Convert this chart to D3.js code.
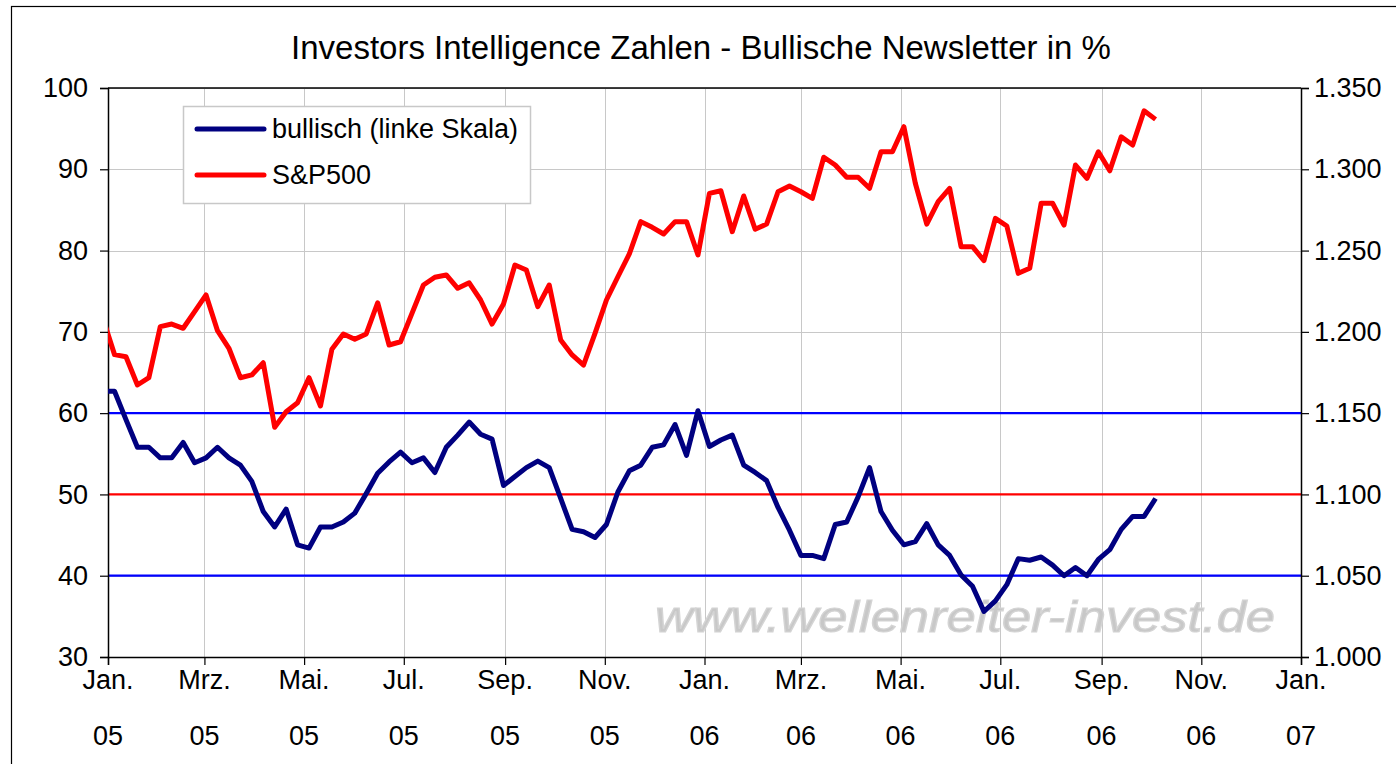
<!DOCTYPE html>
<head>
  <meta charset="utf-8">
  <script src="https://cdn.jsdelivr.net/npm/d3@7"></script>
  <style>
    body { margin:0; background:#fff; }
    text { font-family: "Liberation Sans", Arial, sans-serif; }
  </style>
</head>
<body>
<script>

// weekly values, first week 29.12.2004
var firstWeek = "2004-12-29";

var bullish = [62.7, 62.7, 59.2, 55.8, 55.8, 54.5, 54.5, 56.4, 53.9, 54.5,
  55.8, 54.5, 53.6, 51.6, 47.9, 46.0, 48.2, 43.8, 43.4, 46.0,
  46.0, 46.6, 47.7, 50.1, 52.6, 54.0, 55.2, 53.9, 54.5, 52.7,
  55.8, 57.3, 58.9, 57.4, 56.8, 51.1, 52.2, 53.3, 54.1, 53.3,
  49.5, 45.7, 45.4, 44.7, 46.3, 50.3, 52.9, 53.6, 55.8, 56.1,
  58.6, 54.8, 60.3, 55.9, 56.7, 57.3, 53.6, 52.7, 51.7, 48.4,
  45.6, 42.5, 42.5, 42.1, 46.3, 46.6, 49.7, 53.3, 47.9, 45.6,
  43.8, 44.2, 46.4, 43.8, 42.5, 40.1, 38.7, 35.6, 36.9, 38.9,
  42.1, 41.9, 42.3, 41.3, 40.0, 41.0, 40.0, 42.0, 43.2, 45.7,
  47.3, 47.3, 49.5];

var sp500 = [1208, 1186, 1184.7, 1167.3, 1171.8, 1203.2, 1204.8, 1202.2, 1212.5, 1222.7,
  1200.7, 1189.9, 1171.8, 1173.5, 1181.0, 1141.3, 1150.9, 1156.4, 1171.8, 1154.4,
  1189.3, 1198.7, 1195.4, 1198.7, 1217.9, 1191.9, 1193.9, 1211.4, 1228.8, 1233.6,
  1235.0, 1226.8, 1230.2, 1219.6, 1204.8, 1217.1, 1241.1, 1238.0, 1215.5, 1228.8,
  1195.0, 1185.8, 1179.6, 1199.1, 1219.6, 1233.9, 1247.9, 1267.8, 1264.3, 1260.2,
  1267.8, 1267.8, 1247.3, 1285.2, 1286.8, 1261.6, 1283.6, 1263.1, 1266.3, 1286.2,
  1289.7, 1286.2, 1282.1, 1307.4, 1302.6, 1295.1, 1295.1, 1288.3, 1310.8, 1310.8,
  1326.2, 1291.4, 1266.3, 1280.1, 1288.3, 1252.4, 1252.4, 1243.8, 1269.8, 1265.1,
  1236.0, 1239.1, 1279.1, 1279.1, 1265.7, 1302.6, 1294.4, 1310.8, 1299.1, 1320.0,
  1314.9, 1336.0, 1330.7];

var leftTicks = [30, 40, 50, 60, 70, 80, 90, 100];
var rightTicks = [1000, 1050, 1100, 1150, 1200, 1250, 1300, 1350];
var refLines = [{v: 60, c: "#0000ff"}, {v: 50, c: "#ff0000"}, {v: 40, c: "#0000ff"}];
var monthNames = ["Jan.", "Feb.", "Mrz.", "Apr.", "Mai.", "Jun.", "Jul.", "Aug.", "Sep.", "Okt.", "Nov.", "Dez."];
var seriesNames = ["bullisch (linke Skala)", "S&P500"];
var titleText = "Investors Intelligence Zahlen - Bullische Newsletter in %";
var watermark = "www.wellenreiter-invest.de";

var width = 1396, height = 764;
var pLeft = 108, pRight = 1301, pTop = 88, pBottom = 657;

var start = d3.timeParse("%Y-%m-%d")(firstWeek);
var dates = bullish.map(function(d, i) { return d3.timeDay.offset(start, 7 * i); });

var x = d3.scaleTime()
  .domain([new Date(2005, 0, 1), new Date(2007, 0, 1)])
  .range([pLeft, pRight]);
var yL = d3.scaleLinear().domain([30, 100]).range([pBottom, pTop]);
var yR = d3.scaleLinear().domain([1000, 1350]).range([pBottom, pTop]);

var de = d3.formatLocale({decimal: ",", thousands: ".", grouping: [3], currency: ["", " €"]});
var fmtR = de.format(",.0f");

var svg = d3.select("body").append("svg")
  .attr("width", width)
  .attr("height", height);

// chart frame (cut off at right/bottom)
svg.append("rect")
  .attr("x", 11.5).attr("y", 6.5)
  .attr("width", 1400).attr("height", 800)
  .style("fill", "#fff").style("stroke", "#000").style("stroke-width", 1.2);

svg.append("text")
  .attr("x", 701).attr("y", 59)
  .attr("text-anchor", "middle")
  .style("font-size", "33px")
  .text(titleText);

svg.append("defs").append("clipPath").attr("id", "plot")
  .append("rect").attr("x", pLeft).attr("y", pTop)
  .attr("width", pRight - pLeft).attr("height", pBottom - pTop);

var monthTicks = d3.timeMonth.every(2).range(new Date(2005, 0, 1), new Date(2007, 0, 2));

// grid
svg.append("g").selectAll("line")
  .data(monthTicks)
  .enter().append("line")
  .attr("x1", function(d) { return Math.round(x(d)) + 0.5; })
  .attr("x2", function(d) { return Math.round(x(d)) + 0.5; })
  .attr("y1", pTop).attr("y2", pBottom)
  .style("stroke", "#c8c8c8").style("stroke-width", 1);

svg.append("g").selectAll("line")
  .data(leftTicks)
  .enter().append("line")
  .attr("x1", pLeft).attr("x2", pRight)
  .attr("y1", function(d) { return Math.round(yL(d)) + 0.5; })
  .attr("y2", function(d) { return Math.round(yL(d)) + 0.5; })
  .style("stroke", "#c8c8c8").style("stroke-width", 1);

// watermark
svg.append("text")
  .attr("x", 655).attr("y", 632)
  .attr("textLength", 620)
  .attr("lengthAdjust", "spacingAndGlyphs")
  .style("font-size", "44px")
  .style("font-style", "italic")
  .style("fill", "#c8c8c8")
  .style("stroke", "#d4d4d4").style("stroke-width", 1.2)
  .text(watermark);

// reference lines
svg.append("g").selectAll("line")
  .data(refLines)
  .enter().append("line")
  .attr("x1", pLeft).attr("x2", pRight)
  .attr("y1", function(d) { return yL(d.v); })
  .attr("y2", function(d) { return yL(d.v); })
  .style("stroke", function(d) { return d.c; })
  .style("stroke-width", 2.2);

// axes
var axL = svg.append("g")
  .attr("transform", "translate(" + pLeft + ",0)")
  .call(d3.axisLeft(yL).tickValues(leftTicks).tickSize(8).tickPadding(12));
var axR = svg.append("g")
  .attr("transform", "translate(" + pRight + ",0)")
  .call(d3.axisRight(yR).tickValues(rightTicks).tickSize(8).tickPadding(5).tickFormat(fmtR));
var axB = svg.append("g")
  .attr("transform", "translate(0," + pBottom + ")")
  .call(d3.axisBottom(x).tickValues(monthTicks).tickSize(8).tickFormat(""));

[axL, axR, axB].forEach(function(a) {
  a.select(".domain").style("stroke", "#000").style("stroke-width", 1.5);
  a.selectAll(".tick line").style("stroke", "#000").style("stroke-width", 1.2);
  a.selectAll("text").style("font-size", "27px").style("font-family", "Liberation Sans, Arial, sans-serif").style("fill", "#000");
});

svg.append("line")
  .attr("x1", pLeft).attr("x2", pRight).attr("y1", pTop).attr("y2", pTop)
  .style("stroke", "#000").style("stroke-width", 1.5);

var xl = svg.append("g").selectAll("text")
  .data(monthTicks)
  .enter().append("text")
  .attr("text-anchor", "middle")
  .style("font-size", "27px");
xl.append("tspan")
  .attr("x", function(d) { return x(d); })
  .attr("y", 689)
  .text(function(d) { return monthNames[d.getMonth()]; });
xl.append("tspan")
  .attr("x", function(d) { return x(d); })
  .attr("y", 745)
  .text(function(d) { return d3.timeFormat("%y")(d); });

// lines
var plot = svg.append("g").attr("clip-path", "url(#plot)");

plot.append("path")
  .datum(sp500)
  .attr("d", d3.line().x(function(d, i) { return x(dates[i]); }).y(function(d) { return yR(d); }))
  .style("fill", "none").style("stroke", "#ff0000").style("stroke-width", 5)
  .style("stroke-linejoin", "round");

plot.append("path")
  .datum(bullish)
  .attr("d", d3.line().x(function(d, i) { return x(dates[i]); }).y(function(d) { return yL(d); }))
  .style("fill", "none").style("stroke", "#000080").style("stroke-width", 5)
  .style("stroke-linejoin", "round");

// legend
var lg = svg.append("g");
lg.append("rect")
  .attr("x", 183.5).attr("y", 106.5).attr("width", 347).attr("height", 97)
  .style("fill", "#fff").style("stroke", "#c8c8c8").style("stroke-width", 1.5);
var items = lg.selectAll("g.item")
  .data(seriesNames)
  .enter().append("g")
  .attr("transform", function(d, i) { return "translate(0," + (129 + i * 46) + ")"; });
items.append("line")
  .attr("x1", 197).attr("x2", 264)
  .style("stroke", function(d, i) { return i === 0 ? "#000080" : "#ff0000"; })
  .style("stroke-width", 5).style("stroke-linecap", "round");
items.append("text")
  .attr("x", 272).attr("y", 9)
  .style("font-size", "27px")
  .text(function(d) { return d; });

</script>
</body>
